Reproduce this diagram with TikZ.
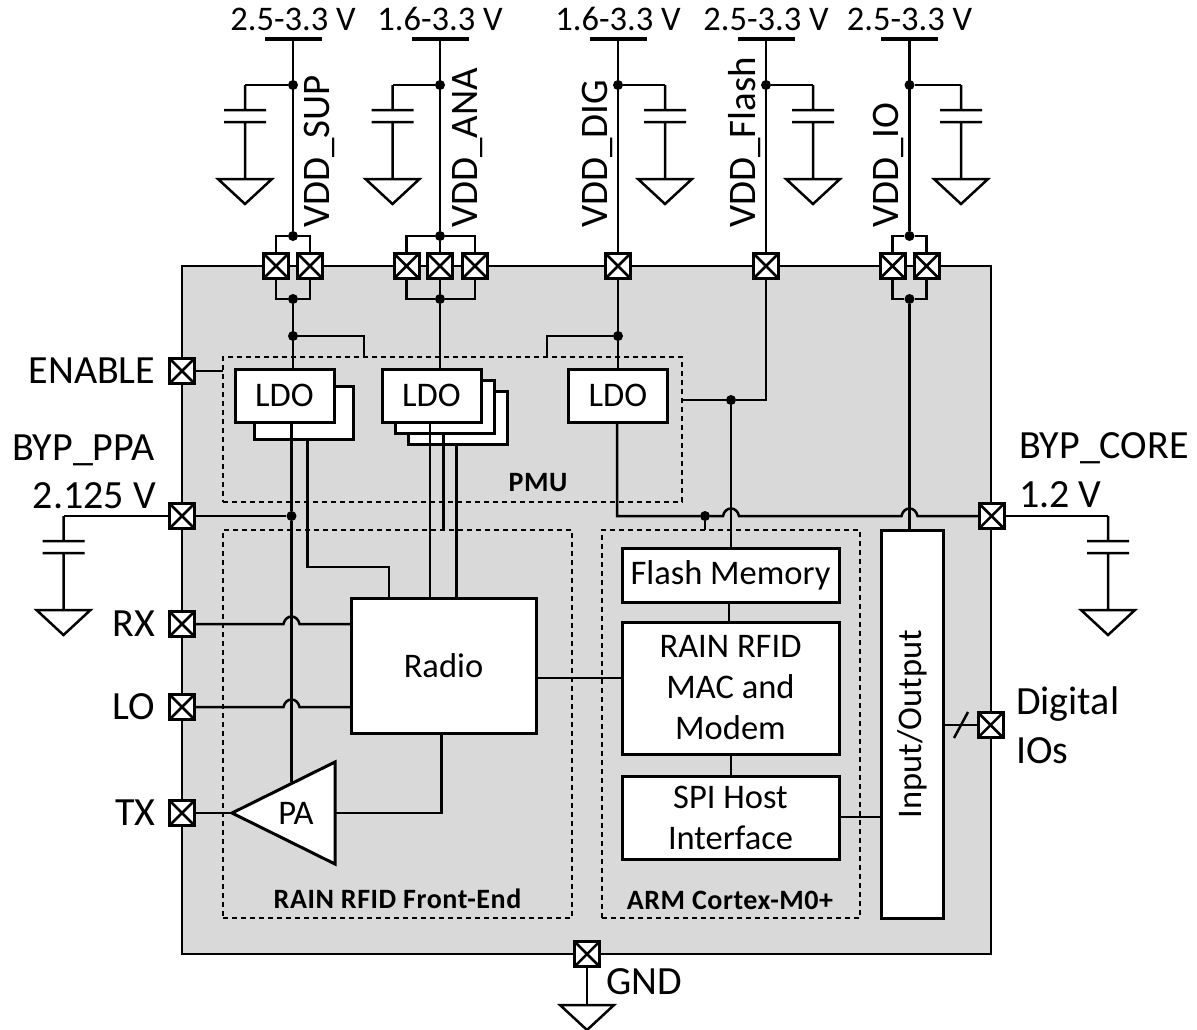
\documentclass[tikz,border=0pt]{standalone}
\usepackage{fontspec}
\setmainfont{Carlito}
\newfontfamily\groupfont[LetterSpace=2]{Carlito}
\usetikzlibrary{positioning,calc}
\newcommand{\hopat}[1]{-- ($(#1)+(-8,0)$) .. controls ($(#1)+(-6,-10)$) and ($(#1)+(6,-10)$) .. ($(#1)+(8,0)$)}

\begin{document}
\begin{tikzpicture}[
x=1pt, y=-1pt,
wire/.style={line width=2.5pt},
pad/.style={draw, line width=3pt, fill=white, inner sep=0pt, outer sep=0pt, minimum size=25pt,
  path picture={\draw[line width=2.5pt] (path picture bounding box.north west) -- (path picture bounding box.south east)
    (path picture bounding box.north east) -- (path picture bounding box.south west);}},
block/.style={draw, line width=3pt, fill=white, inner sep=0pt, outer sep=0pt, align=center, font=\fontsize{34.5}{41}\selectfont},
ldo/.style={block, minimum width=99pt, minimum height=53pt},
core/.style={block, minimum width=217pt},
group/.style={draw, line width=2.5pt, dash pattern=on 5pt off 4pt, inner sep=0pt, outer sep=0pt},
grouplab/.style={inner sep=0pt, anchor=base, font=\fontsize{28}{32}\groupfont\bfseries},
dot/.style={circle, fill, inner sep=0pt, minimum size=10pt},
bar/.style={draw, line width=3pt, inner sep=0pt, outer sep=0pt, minimum width=54pt},
volt/.style={inner sep=0pt, font=\fontsize{34.5}{41}\selectfont},
pinlab/.style={inner sep=0pt, font=\fontsize{40}{49}\selectfont},
railname/.style={inner sep=0pt, rotate=90, anchor=base west, font=\fontsize{39}{47}\selectfont},
gnd/.pic={\draw[line width=2.5pt] (-27,0) -- (27,0) -- (0,25) -- cycle;},
decap/.pic={\draw[line width=2.5pt] (0,0) -- (0,25) (-21,25) -- (21,25) (-21,37) -- (21,37) (0,37) -- (0,94)
  (-27,94) -- (27,94) -- (0,119) -- cycle;}
]
\useasboundingbox (0,0) rectangle (1197,1029);

% chip and groups
\node[draw, line width=2.5pt, fill=black!15, inner sep=0pt, outer sep=0pt, minimum width=809pt, minimum height=688pt] (chip) at (586.5,610) {};
\node[group, minimum width=459pt, minimum height=145pt] (pmu) at (452.5,429.5) {};
\node[group, minimum width=349pt, minimum height=388pt] (rf) at (397.5,724) {};
\node[group, minimum width=258pt, minimum height=388pt] (arm) at (731,724) {};
\node[grouplab] (pmulab) at (538,491) {PMU};
\node[grouplab] (rflab) at (397.5,908) {RAIN RFID Front-End};
\node[grouplab] (armlab) at (730,909) {ARM Cortex-M0+};

% blocks
\node[ldo] (ldoaback) at (303.5,413) {};
\node[ldo] (ldoa) at (284.5,395.5) {LDO};
\node[ldo] (ldobbackb) at (457.5,418) {};
\node[ldo] (ldobbacka) at (444.5,407) {};
\node[ldo] (ldob) at (431.5,395.5) {LDO};
\node[ldo] (ldoc) at (618,395.5) {LDO};
\node[block, minimum width=185pt, minimum height=135pt] (radio) at (443.5,665.5) {Radio};
\node[core, minimum height=54pt] (flash) at (730.5,575) {Flash Memory};
\node[core, minimum height=132pt] (mac) at (730.5,688) {RAIN RFID\\MAC and\\Modem};
\node[core, minimum height=83pt] (spi) at (730.5,817.5) {SPI Host\\Interface};
\node[block, minimum width=62pt, minimum height=388pt] (io) at (912,724) {};
\node[inner sep=0pt, rotate=90, font=\fontsize{34.5}{41}\selectfont] (iolab) at (912,724) {Input/Output};
\draw[line width=3pt, fill=white] (232,813) coordinate (patip) -- (335,762) -- (335,864) -- cycle;
\node[inner sep=0pt, font=\fontsize{34.5}{41}\selectfont] (palab) at (296,813) {PA};
\coordinate (paback) at (335,813);
\coordinate (pavdd) at (291.5,782);

% pads
\node[pad] (supa) at (276,266) {};
\node[pad] (supb) at (310,266) {};
\node[pad] (anaa) at (406.5,266) {};
\node[pad] (anab) at (440,266) {};
\node[pad] (anac) at (475,266) {};
\node[pad] (digpad) at (618,266) {};
\node[pad] (flpad) at (766,266) {};
\node[pad] (ioa) at (892.5,266) {};
\node[pad] (iob) at (926.5,266) {};
\node[pad] (enpad) at (182,371) {};
\node[pad] (ppapad) at (182,516) {};
\node[pad] (rxpad) at (182,624) {};
\node[pad] (lopad) at (182,707) {};
\node[pad] (txpad) at (182,813) {};
\node[pad] (corepad) at (991.5,516) {};
\node[pad] (diopad) at (990.5,725) {};
\node[pad] (gndpad) at (587,954) {};

% supply rails
\node[bar] (suptop) at (293,39) {};
\node[bar] (anatop) at (440,39) {};
\node[bar] (digtop) at (618,39) {};
\node[bar] (fltop) at (766,39) {};
\node[bar] (iotop) at (909.5,39) {};
\node[volt, above=8pt of suptop] (supv) {2.5-3.3 V};
\node[volt, above=8pt of anatop] (anav) {1.6-3.3 V};
\node[volt, above=8pt of digtop] (digv) {1.6-3.3 V};
\node[volt, above=8pt of fltop] (flv) {2.5-3.3 V};
\node[volt, above=8pt of iotop] (iov) {2.5-3.3 V};
\node[railname] (supname) at (329,228) {VDD\_SUP};
\node[railname] (ananame) at (477,228) {VDD\_ANA};
\node[railname] (digname) at (607,228) {VDD\_DIG};
\node[railname] (flname) at (755,228) {VDD\_Flash};
\node[railname] (ioname) at (898,228) {VDD\_IO};

\node[dot] (supcap) at (293,85) {};
\node[dot] (anacap) at (440,85) {};
\node[dot] (digcap) at (618,85) {};
\node[dot] (flcap) at (766,85) {};
\node[dot] (iocap) at (909.5,85) {};
\node[dot] (supin) at (293,236) {};
\node[dot] (anain) at (440,236) {};
\node[dot] (ioin) at (909.5,236) {};
\node[dot] (supout) at (293,299) {};
\node[dot] (anaout) at (440,299) {};
\node[dot] (ioout) at (909.5,299) {};
\node[dot] (supen) at (293,336) {};
\node[dot] (digen) at (618,336) {};
\node[dot] (ppadot) at (291.5,516) {};
\node[dot] (flout) at (731,400) {};
\node[dot] (coredot) at (705,516) {};

\draw[wire] (suptop) -- (supin); \draw[wire] (anatop) -- (anain); \draw[wire] (digtop) -- (digpad);
\draw[wire] (fltop) -- (flpad); \draw[wire] (iotop) -- (ioin);
\draw[wire] (supa) |- (supin) -| (supb); \draw[wire] (ioa) |- (ioin) -| (iob);
\draw[wire] (anaa) |- (anain) -| (anac); \draw[wire] (anain) -- (anab);
\draw[wire] (supa) |- (supout) -| (supb); \draw[wire] (ioa) |- (ioout) -| (iob);
\draw[wire] (anaa) |- (anaout) -| (anac); \draw[wire] (anab) -- (anaout);
\draw[wire] (supcap) -| (245,85); \draw[wire] (anacap) -| (392.5,85);
\draw[wire] (digcap) -| (665,85); \draw[wire] (flcap) -| (813,85); \draw[wire] (iocap) -| (961,85);
\pic at (245,85) {decap};
\pic at (392.5,85) {decap};
\pic at (665,85) {decap};
\pic at (813,85) {decap};
\pic at (961,85) {decap};

% power distribution
\draw[wire] (supout) -- (supout |- ldoa.north);
\draw[wire] (anaout) -- (anaout |- ldob.north);
\draw[wire] (digpad) -- (digpad |- ldoc.north);
\draw[wire] (supen) -| (364,357); \draw[wire] (digen) -| (547,357);
\draw[wire] (enpad) -- (pmu.west |- enpad);
\draw[wire] (ppadot |- ldoa.south) -- (ppadot) -- (pavdd);
\draw[wire] (ppapad) -- (ppadot);
\draw[wire] (307.5,439) |- (389,567) -- (389,598);
\draw[wire] (430,422) -- (430,598);
\draw[wire] (443.5,433) -- (443.5,530);
\draw[wire] (456.5,444) -- (456.5,598);
\draw[wire] (flpad) |- (flout) -- (pmu.east |- flout);
\draw[wire] (flout) -- (flout |- flash.north);
\draw[wire] (617,422) -- (617,516) -- (coredot) \hopat{731,516} \hopat{909.5,516} -- (corepad);
\draw[wire] (coredot) -- (705,530);
\draw[wire] (ioout) -- (ioout |- io.north);

% signals
\draw[wire] (rxpad) \hopat{291.5,624} -- (rxpad -| radio.west);
\draw[wire] (lopad) \hopat{291.5,707} -- (lopad -| radio.west);
\draw[wire] (txpad) -- (patip);
\draw[wire] (radio.south) ++(-2,0) |- (paback);
\draw[wire] (radio.east |- 0,678) -- (mac.west |- 0,678);
\draw[wire] (flash.south -| 729,0) -- (mac.north -| 729,0);
\draw[wire] (mac.south -| 731,0) -- (spi.north -| 731,0);
\draw[wire] (spi.east |- 0,817) -- (io.west |- 0,817);
\draw[wire] (io.east |- diopad) -- (diopad);
\draw[wire] (954,738) -- (968,712);
\draw[wire] (gndpad) -- (587,1005);
\pic at (587,1005) {gnd};

% outer pins
\draw[wire] (ppapad) -| (63.5,516);
\draw[wire] (corepad) -| (1108,516);
\pic at (63.5,516) {decap};
\pic at (1108,516) {decap};
\node[pinlab, left=14pt of enpad] (enlab) {ENABLE};
\node[pinlab, left=14pt of rxpad] (rxlab) {RX};
\node[pinlab, left=14pt of lopad] (lolab) {LO};
\node[pinlab, left=14pt of txpad] (txlab) {TX};
\node[pinlab, anchor=base west] (ppalab) at (12,460) {BYP\_PPA};
\node[pinlab, anchor=base east] (ppav) at (156,508) {2.125 V};
\node[pinlab, anchor=base west] (corelab) at (1019,458) {BYP\_CORE};
\node[pinlab, anchor=base west] (corev) at (1019,507) {1.2 V};
\node[pinlab, right=13pt of diopad, align=left] (diolab) {Digital\\IOs};
\node[pinlab, anchor=base west] (gndlab) at (606,994) {GND};
\end{tikzpicture}
\end{document}
